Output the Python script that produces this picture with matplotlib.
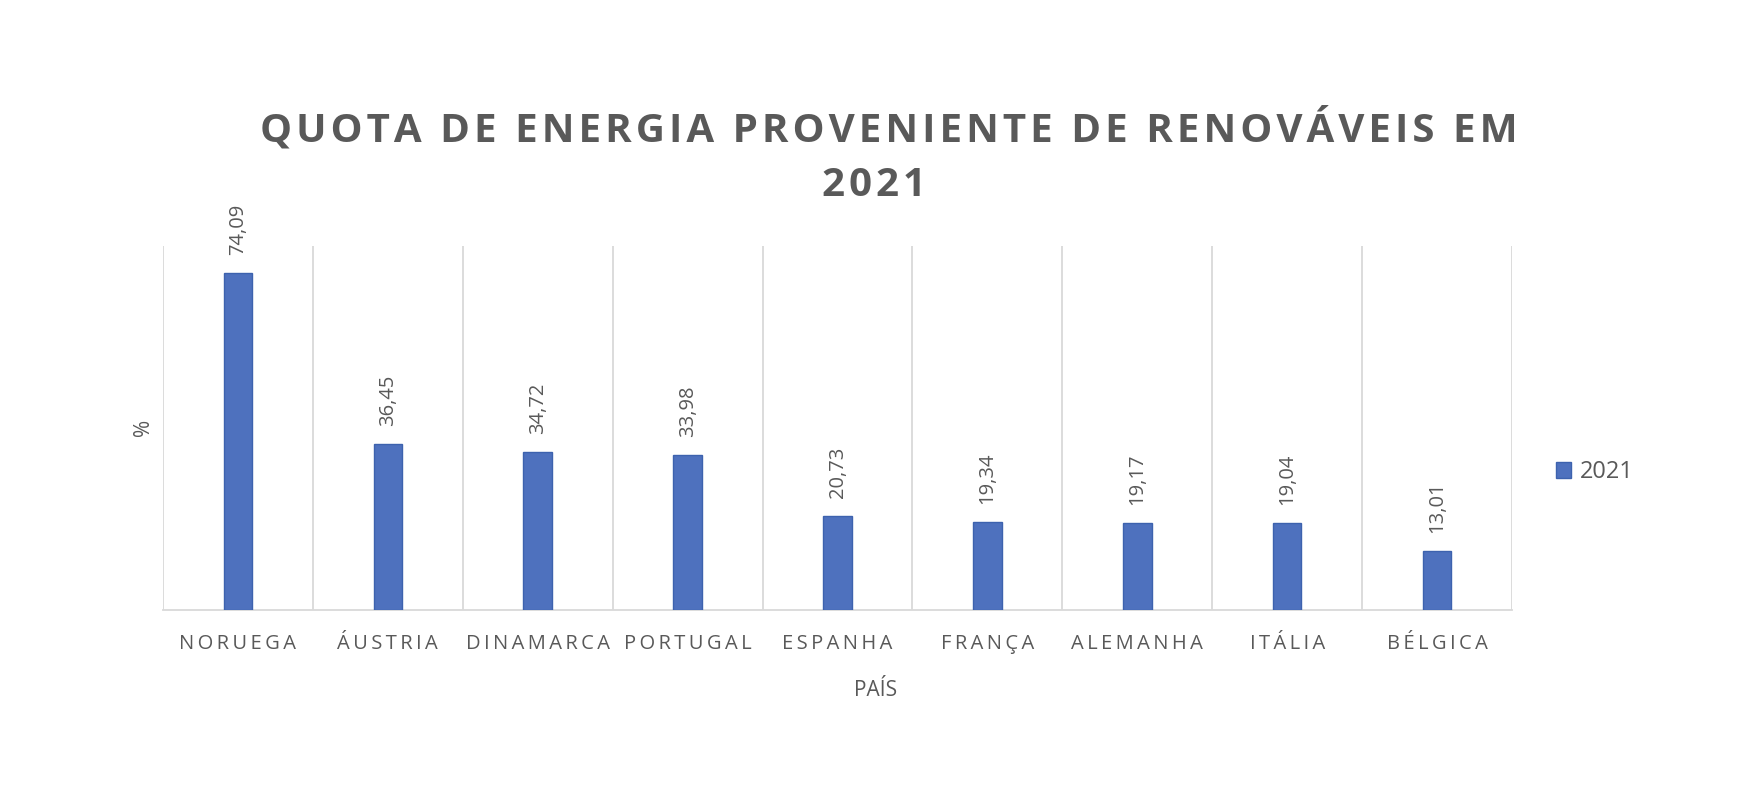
import matplotlib
matplotlib.use('Agg')
import matplotlib.pyplot as plt
import numpy as np

# ── Dados ──────────────────────────────────────────────────────────────────────
paises  = ['NORUEGA', 'ÁUSTRIA', 'DINAMARCA', 'PORTUGAL', 'ESPANHA',
           'FRANÇA', 'ALEMANHA', 'ITÁLIA', 'BÉLGICA']
quota   = [74.09, 36.45, 34.72, 33.98, 20.73, 19.34, 19.17, 19.04, 13.01]
serie   = '2021'

titulo_1 = 'QUOTA DE ENERGIA PROVENIENTE DE RENOVÁVEIS EM'
titulo_2 = '2021'

# ── Estilo ─────────────────────────────────────────────────────────────────────
plt.rcParams['font.family'] = ['Open Sans', 'DejaVu Sans']
CINZA  = '#595959'
GRELHA = '#D9D9D9'
AZUL   = '#4E71BE'


def espacado(txt, sep='\u2009'):
    # imita o espaçamento entre letras do Excel
    return sep.join(txt)


W, H = 1750, 800
fig = plt.figure(figsize=(W / 100, H / 100), dpi=100)
ax = fig.add_axes([163 / W, 1 - 610 / H, (1512 - 163) / W, (610 - 246) / H])

x = np.arange(len(paises))
barras = ax.bar(x, quota, width=0.19, color=AZUL, edgecolor='#3D62AE',
                linewidth=1, label=serie, zorder=3)

for xi, v in zip(x, quota):
    ax.annotate(f'{v:.2f}'.replace('.', ','), (xi, v), xytext=(0, 13),
                textcoords='offset points', rotation=90, ha='center', va='bottom',
                fontsize=14.5, color=CINZA)

ax.set_xlim(-0.5, len(paises) - 0.5)
ax.set_ylim(0, 80)
ax.set_yticks([])
ax.set_xticks(x)
ax.set_xticklabels([espacado(p) for p in paises], fontsize=14.5, color=CINZA)
ax.tick_params(axis='x', length=0, pad=17)

# linhas verticais entre categorias
for b in np.arange(-0.5, len(paises), 1.0):
    ax.axvline(b, color=GRELHA, linewidth=1.3, zorder=1)

for s in ['top', 'left', 'right']:
    ax.spines[s].set_visible(False)
ax.spines['bottom'].set_color(GRELHA)
ax.spines['bottom'].set_linewidth(1.3)

fig.text(876 / W, 1 - 690 / H, 'PAÍS', ha='center', va='center', fontsize=15, color=CINZA)
fig.text(143 / W, 1 - 427 / H, '%', ha='center', va='center', rotation=90,
         fontsize=15, color=CINZA)

fig.text(889 / W, 1 - 129 / H, espacado(titulo_1, '\u200a'), ha='center', va='center',
         fontsize=29, fontweight='bold', color=CINZA)
fig.text(874 / W, 1 - 186 / H, espacado(titulo_2, '\u200a'), ha='center', va='center',
         fontsize=29, fontweight='bold', color=CINZA)

fig.legend(loc='center left', bbox_to_anchor=(1556 / W, 1 - 472 / H), frameon=False,
           fontsize=17, handlelength=0.65, handleheight=0.65, handletextpad=0.35,
           borderpad=0, borderaxespad=0, labelcolor=CINZA)

fig.savefig('out.png', dpi=100, facecolor='white')
